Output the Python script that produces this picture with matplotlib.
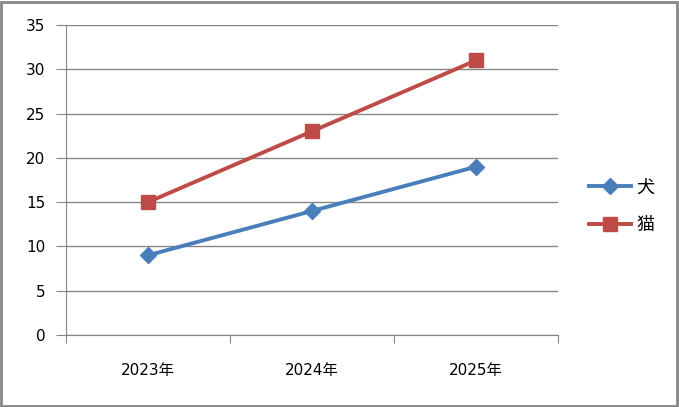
import matplotlib
matplotlib.use("Agg")
import matplotlib.pyplot as plt
from matplotlib.patches import Rectangle

plt.rcParams['font.family'] = ['DejaVu Sans', 'Noto Sans CJK JP']

years = ["2023年", "2024年", "2025年"]
dog = [9, 14, 19]
cat = [15, 23, 31]

fig = plt.figure(figsize=(6.79, 4.07), dpi=100)
ax = fig.add_axes([66/679, 72/407, 492/679, 310/407])

x = list(range(len(years)))
ax.plot(x, dog, color='#4A7EBB', lw=2.8, marker='D', ms=8, label='犬', zorder=3)
ax.plot(x, cat, color='#BE4B48', lw=2.8, marker='s', ms=10, label='猫', zorder=3)

ax.set_xlim(-0.5, 2.5)
ax.set_ylim(0, 35)
ax.set_yticks(range(0, 36, 5))
ax.set_xticks([-0.5, 0.5, 1.5, 2.5])
ax.set_xticklabels([])
ax.set_xticks(x, minor=True)
ax.set_xticklabels(years, minor=True, fontsize=11)
ax.tick_params(axis='x', which='major', length=6, color='#868686', direction='out')
ax.tick_params(axis='x', which='minor', length=0, pad=20)
ax.tick_params(axis='y', length=7, color='#868686', labelsize=11, pad=8)
ax.grid(axis='y', color='#868686', lw=1)
for s in ['top', 'right']:
    ax.spines[s].set_visible(False)
for s in ['left', 'bottom']:
    ax.spines[s].set_color('#868686')
ax.set_axisbelow(True)

ax.legend(loc='center left', bbox_to_anchor=(1.03, 0.415), frameon=False,
          fontsize=13, handlelength=2.3, labelspacing=1.1, handletextpad=0.3)

fig.patches.append(Rectangle((0.002, 0.003), 0.995, 0.993, transform=fig.transFigure,
                             fill=False, edgecolor='#868686', lw=2))

fig.savefig("out.png", dpi=100)
